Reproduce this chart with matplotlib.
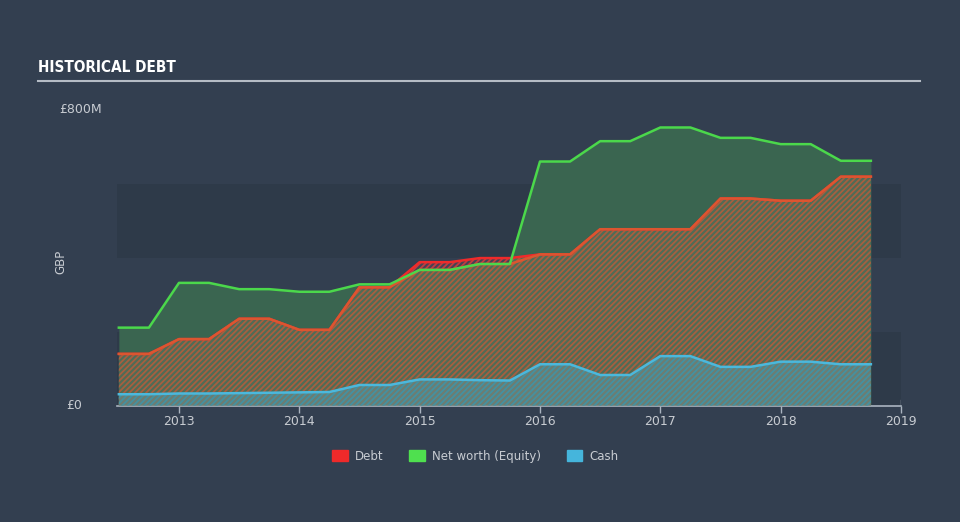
# Historical debt chart: debt, net worth (equity) and cash over time
import matplotlib
matplotlib.use('Agg')
import matplotlib.pyplot as plt
import matplotlib.patches as mpatches
import numpy as np

# quarter-end dates (fractional years)
dates = [2012.5, 2012.75, 2013.0, 2013.25, 2013.5, 2013.75, 2014.0, 2014.25,
         2014.5, 2014.75, 2015.0, 2015.25, 2015.5, 2015.75, 2016.0, 2016.25,
         2016.5, 2016.75, 2017.0, 2017.25, 2017.5, 2017.75, 2018.0, 2018.25,
         2018.5, 2018.75]

# values in GBP millions
equity = [211, 211, 332, 332, 315, 315, 308, 308, 328, 328, 367, 367, 383,
          383, 660, 660, 715, 715, 752, 752, 724, 724, 707, 707, 662, 662]
debt = [140, 140, 180, 180, 235, 235, 205, 205, 320, 320, 388, 388, 399,
        399, 409, 409, 477, 477, 477, 477, 560, 560, 554, 554, 619, 619]
cash = [31, 31, 33, 33, 34, 35, 36, 37, 56, 56, 71, 71, 69, 68, 112, 112,
        83, 83, 134, 134, 105, 105, 119, 119, 112, 112]

year_ticks = [2013, 2014, 2015, 2016, 2017, 2018, 2019]
legend_labels = ['Debt', 'Net worth (Equity)', 'Cash']

BG = '#333f50'
BAND = '#2e3a49'
TXT = '#c8ccd2'


def main():
    x = np.array(dates)
    eq = np.array(equity)
    de = np.array(debt)
    ca = np.array(cash)

    plt.rcParams['hatch.linewidth'] = 1.3

    fig = plt.figure(figsize=(9.6, 5.22), dpi=100, facecolor=BG)
    ax = fig.add_axes([0.1219, 0.2228, 0.8166, 0.5670])
    ax.set_facecolor(BG)
    ax.set_xlim(2012.485, 2019.0)
    ax.set_ylim(0, 800)

    # alternating background bands
    ax.axhspan(0, 200, color=BAND, lw=0, zorder=0)
    ax.axhspan(400, 600, color=BAND, lw=0, zorder=0)

    # equity area
    ax.fill_between(x, 0, eq, color='#3a6550', lw=0, zorder=1)
    # debt area (hatched)
    ax.fill_between(x, 0, de, facecolor='#4f6c56', edgecolor='#a65f40',
                    hatch='//////', lw=0, zorder=2)
    # part of debt above equity gets a red hatch
    ax.fill_between(x, eq, de, where=de > eq, facecolor='#474253',
                    edgecolor='#c23c40', hatch='//////', lw=0, zorder=2,
                    interpolate=True)
    # cash area (hatched)
    ax.fill_between(x, 0, ca, facecolor='#6c7d72', edgecolor='#4591a0',
                    hatch='//////', lw=0, zorder=3)

    # lines
    ax.plot(x, de, color='#f02a2a', lw=1.8, zorder=4)
    ax.plot(x, np.minimum(de, eq), color='#dc5530', lw=1.8, zorder=4)
    ax.plot(x, eq, color='#4bd84b', lw=1.8, zorder=5)
    ax.plot(x, ca, color='#4bb8dc', lw=1.8, zorder=5)

    # axes styling
    for s in ['top', 'right', 'left']:
        ax.spines[s].set_visible(False)
    ax.spines['bottom'].set_color('#aab4c0')
    ax.spines['bottom'].set_linewidth(1.2)
    ax.set_xticks(year_ticks)
    ax.set_xticklabels([str(y) for y in year_ticks])
    ax.tick_params(axis='x', colors='#aab4c0', labelcolor=TXT, labelsize=9,
                   length=5, width=1, pad=2)
    ax.set_yticks([])
    ax.axvline(2019.0, ymin=0, ymax=0.02, color='#aab4c0', lw=1)

    # y labels
    ax.text(-0.047, 1.0, '£800M', transform=ax.transAxes, color=TXT,
            fontsize=9, ha='center', va='center')
    ax.text(-0.055, 0.0, '£0', transform=ax.transAxes, color=TXT,
            fontsize=9, ha='center', va='center')
    fig.text(0.063, 0.498, 'GBP', rotation=90, color=TXT, fontsize=8.5,
             ha='center', va='center')

    # title and rule
    fig.text(0.040, 0.870, 'HISTORICAL DEBT', color='white', fontsize=11,
             fontweight='bold', fontstretch='condensed',
             family=['DejaVu Sans'], ha='left', va='center')
    fig.add_artist(plt.Line2D([0.040, 0.958], [0.845, 0.845],
                              color='#b5bcc5', lw=1.5))

    # legend
    handles = [mpatches.Patch(color='#ee2a2a'),
               mpatches.Patch(color='#4fe04f'),
               mpatches.Patch(color='#45b5dc')]
    leg = fig.legend(handles, legend_labels, loc='center',
                     bbox_to_anchor=(0.495, 0.126), ncol=3, frameon=False,
                     fontsize=8.5, handlelength=1.3, handleheight=1.1,
                     columnspacing=2.2, handletextpad=0.6)
    for t in leg.get_texts():
        t.set_color(TXT)

    fig.savefig('out.png', dpi=100, facecolor=BG)
    plt.close(fig)


if __name__ == "__main__":
    main()
